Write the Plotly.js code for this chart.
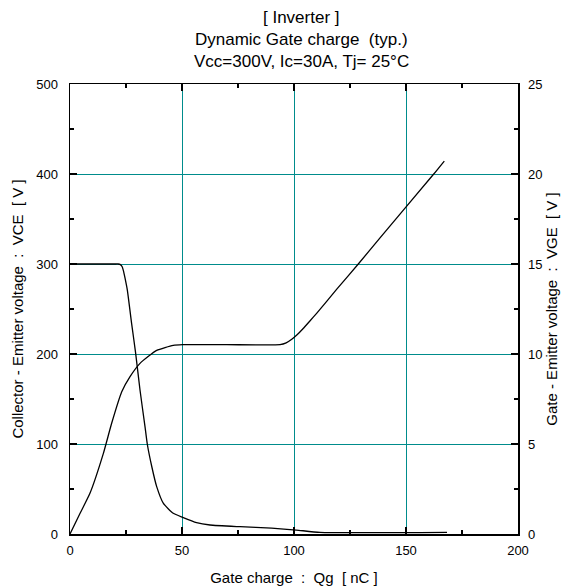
<!DOCTYPE html>
<html>
<head>
<meta charset="utf-8">
<script src="https://cdn.plot.ly/plotly-3.0.1.min.js"></script>
<style>html,body{margin:0;padding:0;background:#fff;}#chart{width:572px;height:586px;}</style>
</head>
<body>
<div id="chart"></div>
<script>
// Gate charge Qg [nC] vs Collector-Emitter voltage VCE [V] (left axis)
const qVce = [0, 10, 20, 21.5, 22.5, 23.3, 23.8, 24.6, 25.6, 27.5, 29.3, 31.25, 33.5, 34.5, 36.5, 38.7, 41.7, 46.1, 50.3, 56.5, 62.5, 75.9, 90, 101, 111.6, 168.3];
const vce  = [300, 300, 300, 300, 299.3, 297, 293, 284, 271, 234, 201, 160, 119, 100, 75, 52.6, 34, 23, 18.5, 12.6, 10, 8.1, 6.5, 4.4, 1.8, 1.8];
// Gate charge Qg [nC] vs Gate-Emitter voltage VGE [V] (right axis)
const qVge = [0, 4.5, 8.9, 14.9, 18.6, 23.1, 26.8, 31.25, 38.7, 46.1, 50.3, 70, 93.75, 96.5, 99, 101.5, 104, 107, 110.1, 119.1, 128.7, 138.4, 162.2, 167.1];
const vge  = [0, 1.15, 2.26, 4.48, 6.15, 7.9, 8.74, 9.48, 10.2, 10.48, 10.52, 10.52, 10.52, 10.62, 10.82, 11.08, 11.4, 11.82, 12.26, 13.6, 15.0, 16.45, 19.97, 20.72];

const titleLines = ["[ Inverter ]", "Dynamic Gate charge  (typ.)", "Vcc=300V, Ic=30A, Tj= 25°C"];
const xTitle = "Gate charge  :  Qg  [ nC ]";
const yTitle = "Collector - Emitter voltage  :  VCE  [ V ]";
const y2Title = "Gate - Emitter voltage  :  VGE  [ V ]";

const FONT = "Liberation Sans, Arial, sans-serif";
const GRID = "rgb(0,140,140)";

const traces = [
  {x: qVce, y: vce, type: "scatter", mode: "lines", line: {color: "#000", width: 1.3, shape: "spline", smoothing: 0.5}, yaxis: "y", hoverinfo: "skip"},
  {x: qVge, y: vge, type: "scatter", mode: "lines", line: {color: "#000", width: 1.3, shape: "spline", smoothing: 0.5}, yaxis: "y2", hoverinfo: "skip"}
];

const titleY = [1.1467, 1.0978, 1.0489];
const annotations = titleLines.map((t, i) => ({
  text: t, xref: "paper", yref: "paper", x: 0.5167, y: titleY[i],
  xanchor: "center", yanchor: "middle", showarrow: false,
  font: {family: FONT, size: 17, color: "#000"}
}));

const layout = {
  width: 572, height: 586,
  margin: {l: 70, r: 54, t: 84, b: 52},
  paper_bgcolor: "#fff", plot_bgcolor: "#fff",
  showlegend: false,
  font: {family: FONT, size: 13, color: "#000"},
  annotations: annotations,
  xaxis: {
    range: [0, 200], dtick: 50, tick0: 0,
    showline: true, linecolor: "#000", linewidth: 1.5, mirror: "ticks",
    ticks: "inside", ticklen: 7, tickcolor: "#000", tickwidth: 1.3,
    minor: {dtick: 25, ticks: "inside", ticklen: 4, tickcolor: "#000", tickwidth: 1.3, showgrid: false},
    showgrid: true, gridcolor: GRID, gridwidth: 1,
    zeroline: false, ticklabelstandoff: 4,
    tickfont: {family: FONT, size: 13},
    title: {text: xTitle, font: {family: FONT, size: 15}, standoff: 15}
  },
  yaxis: {
    range: [0, 500], dtick: 100, tick0: 0,
    showline: true, linecolor: "#000", linewidth: 1.5,
    ticks: "inside", ticklen: 7, tickcolor: "#000", tickwidth: 1.3,
    minor: {dtick: 50, ticks: "inside", ticklen: 4, tickcolor: "#000", tickwidth: 1.3, showgrid: false},
    showgrid: true, gridcolor: GRID, gridwidth: 1,
    zeroline: false, ticklabelstandoff: 8,
    tickfont: {family: FONT, size: 13},
    title: {text: yTitle, font: {family: FONT, size: 15}, standoff: 9}
  },
  yaxis2: {
    overlaying: "y", side: "right",
    range: [0, 25], dtick: 5, tick0: 0,
    showline: true, linecolor: "#000", linewidth: 1.5,
    ticks: "inside", ticklen: 7, tickcolor: "#000", tickwidth: 1.3,
    minor: {dtick: 2.5, ticks: "inside", ticklen: 4, tickcolor: "#000", tickwidth: 1.3, showgrid: false},
    showgrid: false, zeroline: false, ticklabelstandoff: 6,
    tickfont: {family: FONT, size: 13},
    title: {text: y2Title, font: {family: FONT, size: 15}, standoff: 3}
  }
};

Plotly.newPlot("chart", traces, layout, {staticPlot: true, displayModeBar: false});
</script>
</body>
</html>
